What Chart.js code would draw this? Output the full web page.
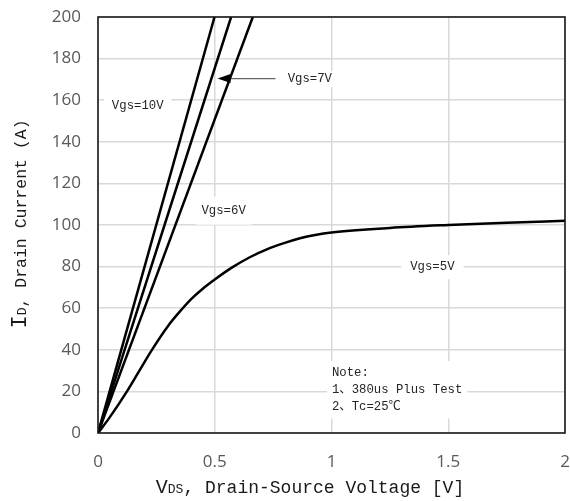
<!DOCTYPE html>
<html>
<head>
<meta charset="utf-8">
<script src="https://cdn.jsdelivr.net/npm/chart.js@4.4.1/dist/chart.umd.min.js"></script>
<style>
  html, body { margin: 0; padding: 0; background: #fff; }
  #wrap { width: 570px; height: 501px; position: relative; }
</style>
</head>
<body>
<div id="wrap"><canvas id="chart"></canvas></div>
<script>
// output characteristics, ID vs VDS at several gate voltages
const vdsVgs10 = [0, 0.499];
const idVgs10  = [0, 200];
const vdsVgs7  = [0, 0.57];
const idVgs7   = [0, 200];
const vdsVgs6  = [0, 0.663];
const idVgs6   = [0, 200];
const vdsVgs5  = [0, 0.05, 0.124, 0.18, 0.231, 0.3, 0.359, 0.4, 0.45, 0.5, 0.573, 0.65, 0.723, 0.8, 0.865, 0.93, 1.0, 1.25, 1.5, 1.75, 2.0];
const idVgs5   = [0, 7.5, 20, 30.5, 40, 51.5, 59.5, 64.5, 69.5, 73.8, 79.5, 84.5, 88.3, 91.4, 93.6, 95.2, 96.4, 98.6, 100, 101.1, 102];

const xTicks = [0, 0.5, 1, 1.5, 2];
const yTicks = [0, 20, 40, 60, 80, 100, 120, 140, 160, 180, 200];

const toPoints = (xs, ys) => xs.map((x, i) => ({ x: x, y: ys[i] }));

// text callouts, placed in axis units
const callouts = [
  { lines: ['Vgs=10V'], x: 0.17, y: 157.1, align: 'center', padX: 8, padY: 6 },
  { lines: ['Vgs=7V'], x: 0.907, y: 170.1, align: 'center', padX: 2, padY: 2 },
  { lines: ['Vgs=6V'], x: 0.538, y: 106.9, align: 'center', padX: 6, padY: 8 },
  { lines: ['Vgs=5V'], x: 1.432, y: 79.7, align: 'center', padX: 9, padY: 6 },
  { lines: ['Note:', '1、380us Plus Test', '2、Tc=25℃'], x: 1.002, y: 28.8, align: 'left', padX: 5, padY: 6 }
];
const arrow = { from: { x: 0.76, y: 170.4 }, to: { x: 0.512, y: 170.4 } };

const monoFont = '"Liberation Mono", monospace';
const noteFont = '12.3px "Liberation Mono", "Noto Sans CJK SC", monospace';

const decorations = {
  id: 'decorations',
  beforeDatasetsDraw(chart) {
    const ctx = chart.ctx;
    const xs = chart.scales.x, ys = chart.scales.y;
    ctx.save();
    ctx.font = noteFont;
    ctx.textBaseline = 'middle';
    const lh = 16.7;
    callouts.forEach(c => {
      const px = xs.getPixelForValue(c.x);
      const py = ys.getPixelForValue(c.y);
      const w = Math.max(...c.lines.map(l => ctx.measureText(l).width));
      const h = lh * (c.lines.length - 1) + 12;
      const left = c.align === 'center' ? px - w / 2 : px;
      ctx.fillStyle = '#fff';
      ctx.fillRect(left - c.padX, py - 6 - c.padY, w + c.padX * 2, h + c.padY * 2);
      ctx.fillStyle = '#262626';
      ctx.textAlign = 'left';
      c.lines.forEach((l, i) => ctx.fillText(l, left, py + i * lh));
    });

    // pointer to the Vgs=7V curve
    const ax0 = xs.getPixelForValue(arrow.from.x), ay = ys.getPixelForValue(arrow.from.y);
    const ax1 = xs.getPixelForValue(arrow.to.x);
    ctx.strokeStyle = '#666';
    ctx.lineWidth = 1.2;
    ctx.beginPath();
    ctx.moveTo(ax0, ay);
    ctx.lineTo(ax1 + 12, ay);
    ctx.stroke();
    ctx.fillStyle = '#000';
    ctx.beginPath();
    ctx.moveTo(ax1, ay);
    ctx.lineTo(ax1 + 13, ay - 4.5);
    ctx.lineTo(ax1 + 13, ay + 4.5);
    ctx.closePath();
    ctx.fill();
    ctx.restore();
  },
  afterDraw(chart) {
    const ctx = chart.ctx;
    const a = chart.chartArea;
    ctx.save();
    // plot frame
    ctx.strokeStyle = '#1a1a1a';
    ctx.lineWidth = 1.6;
    ctx.strokeRect(a.left, a.top, a.right - a.left, a.bottom - a.top);

    ctx.fillStyle = '#1a1a1a';
    ctx.textBaseline = 'alphabetic';

    // x axis title: VDS, Drain-Source Voltage [V]
    const xParts = [
      { t: 'V', f: '20px ' + monoFont },
      { t: 'DS', f: '13px ' + monoFont },
      { t: ', Drain-Source Voltage [V]', f: '18px ' + monoFont }
    ];
    let total = 0;
    xParts.forEach(p => { ctx.font = p.f; p.w = ctx.measureText(p.t).width; total += p.w; });
    let cx = 310 - total / 2;
    xParts.forEach(p => { ctx.font = p.f; ctx.fillText(p.t, cx, 493); cx += p.w; });

    // y axis title: ID, Drain Current (A)
    const yParts = [
      { t: 'I', f: '22px ' + monoFont },
      { t: 'D', f: '13px ' + monoFont },
      { t: ', Drain Current (A)', f: '16.5px ' + monoFont }
    ];
    total = 0;
    yParts.forEach(p => { ctx.font = p.f; p.w = ctx.measureText(p.t).width; total += p.w; });
    ctx.translate(26, 224);
    ctx.rotate(-Math.PI / 2);
    cx = -total / 2;
    yParts.forEach(p => { ctx.font = p.f; ctx.fillText(p.t, cx, 0); cx += p.w; });
    ctx.restore();
  }
};

const lineStyle = {
  showLine: true,
  borderColor: '#000',
  borderWidth: 2.5,
  pointRadius: 0,
  cubicInterpolationMode: 'monotone',
  fill: false
};

new Chart(document.getElementById('chart'), {
  type: 'scatter',
  data: {
    datasets: [
      Object.assign({ label: 'Vgs=10V', data: toPoints(vdsVgs10, idVgs10) }, lineStyle),
      Object.assign({ label: 'Vgs=7V', data: toPoints(vdsVgs7, idVgs7) }, lineStyle),
      Object.assign({ label: 'Vgs=6V', data: toPoints(vdsVgs6, idVgs6) }, lineStyle),
      Object.assign({ label: 'Vgs=5V', data: toPoints(vdsVgs5, idVgs5) }, lineStyle)
    ]
  },
  options: {
    responsive: true,
    maintainAspectRatio: false,
    animation: false,
    layout: { padding: { left: 0, top: 17, right: 5, bottom: 0 } },
    plugins: {
      legend: { display: false },
      tooltip: { enabled: false }
    },
    scales: {
      x: {
        type: 'linear',
        min: 0,
        max: 2,
        afterBuildTicks: s => { s.ticks = xTicks.map(v => ({ value: v })); },
        afterFit: s => { s.height = 68; },
        grid: { color: '#d9d9d9', lineWidth: 1.5, drawTicks: true, tickLength: 19, tickColor: 'rgba(0,0,0,0)' },
        border: { display: false },
        ticks: {
          padding: 0,
          color: '#595959',
          font: { family: '"Open Sans", sans-serif', size: 17 },
          callback: v => String(v)
        }
      },
      y: {
        type: 'linear',
        min: 0,
        max: 200,
        afterBuildTicks: s => { s.ticks = yTicks.map(v => ({ value: v })); },
        afterFit: s => { s.width = 98; },
        grid: { color: '#d9d9d9', lineWidth: 1.5, drawTicks: true, tickLength: 17, tickColor: 'rgba(0,0,0,0)' },
        border: { display: false },
        ticks: {
          padding: 0,
          color: '#595959',
          font: { family: '"Open Sans", sans-serif', size: 17 },
          callback: v => String(v)
        }
      }
    }
  },
  plugins: [decorations]
});
</script>
</body>
</html>
